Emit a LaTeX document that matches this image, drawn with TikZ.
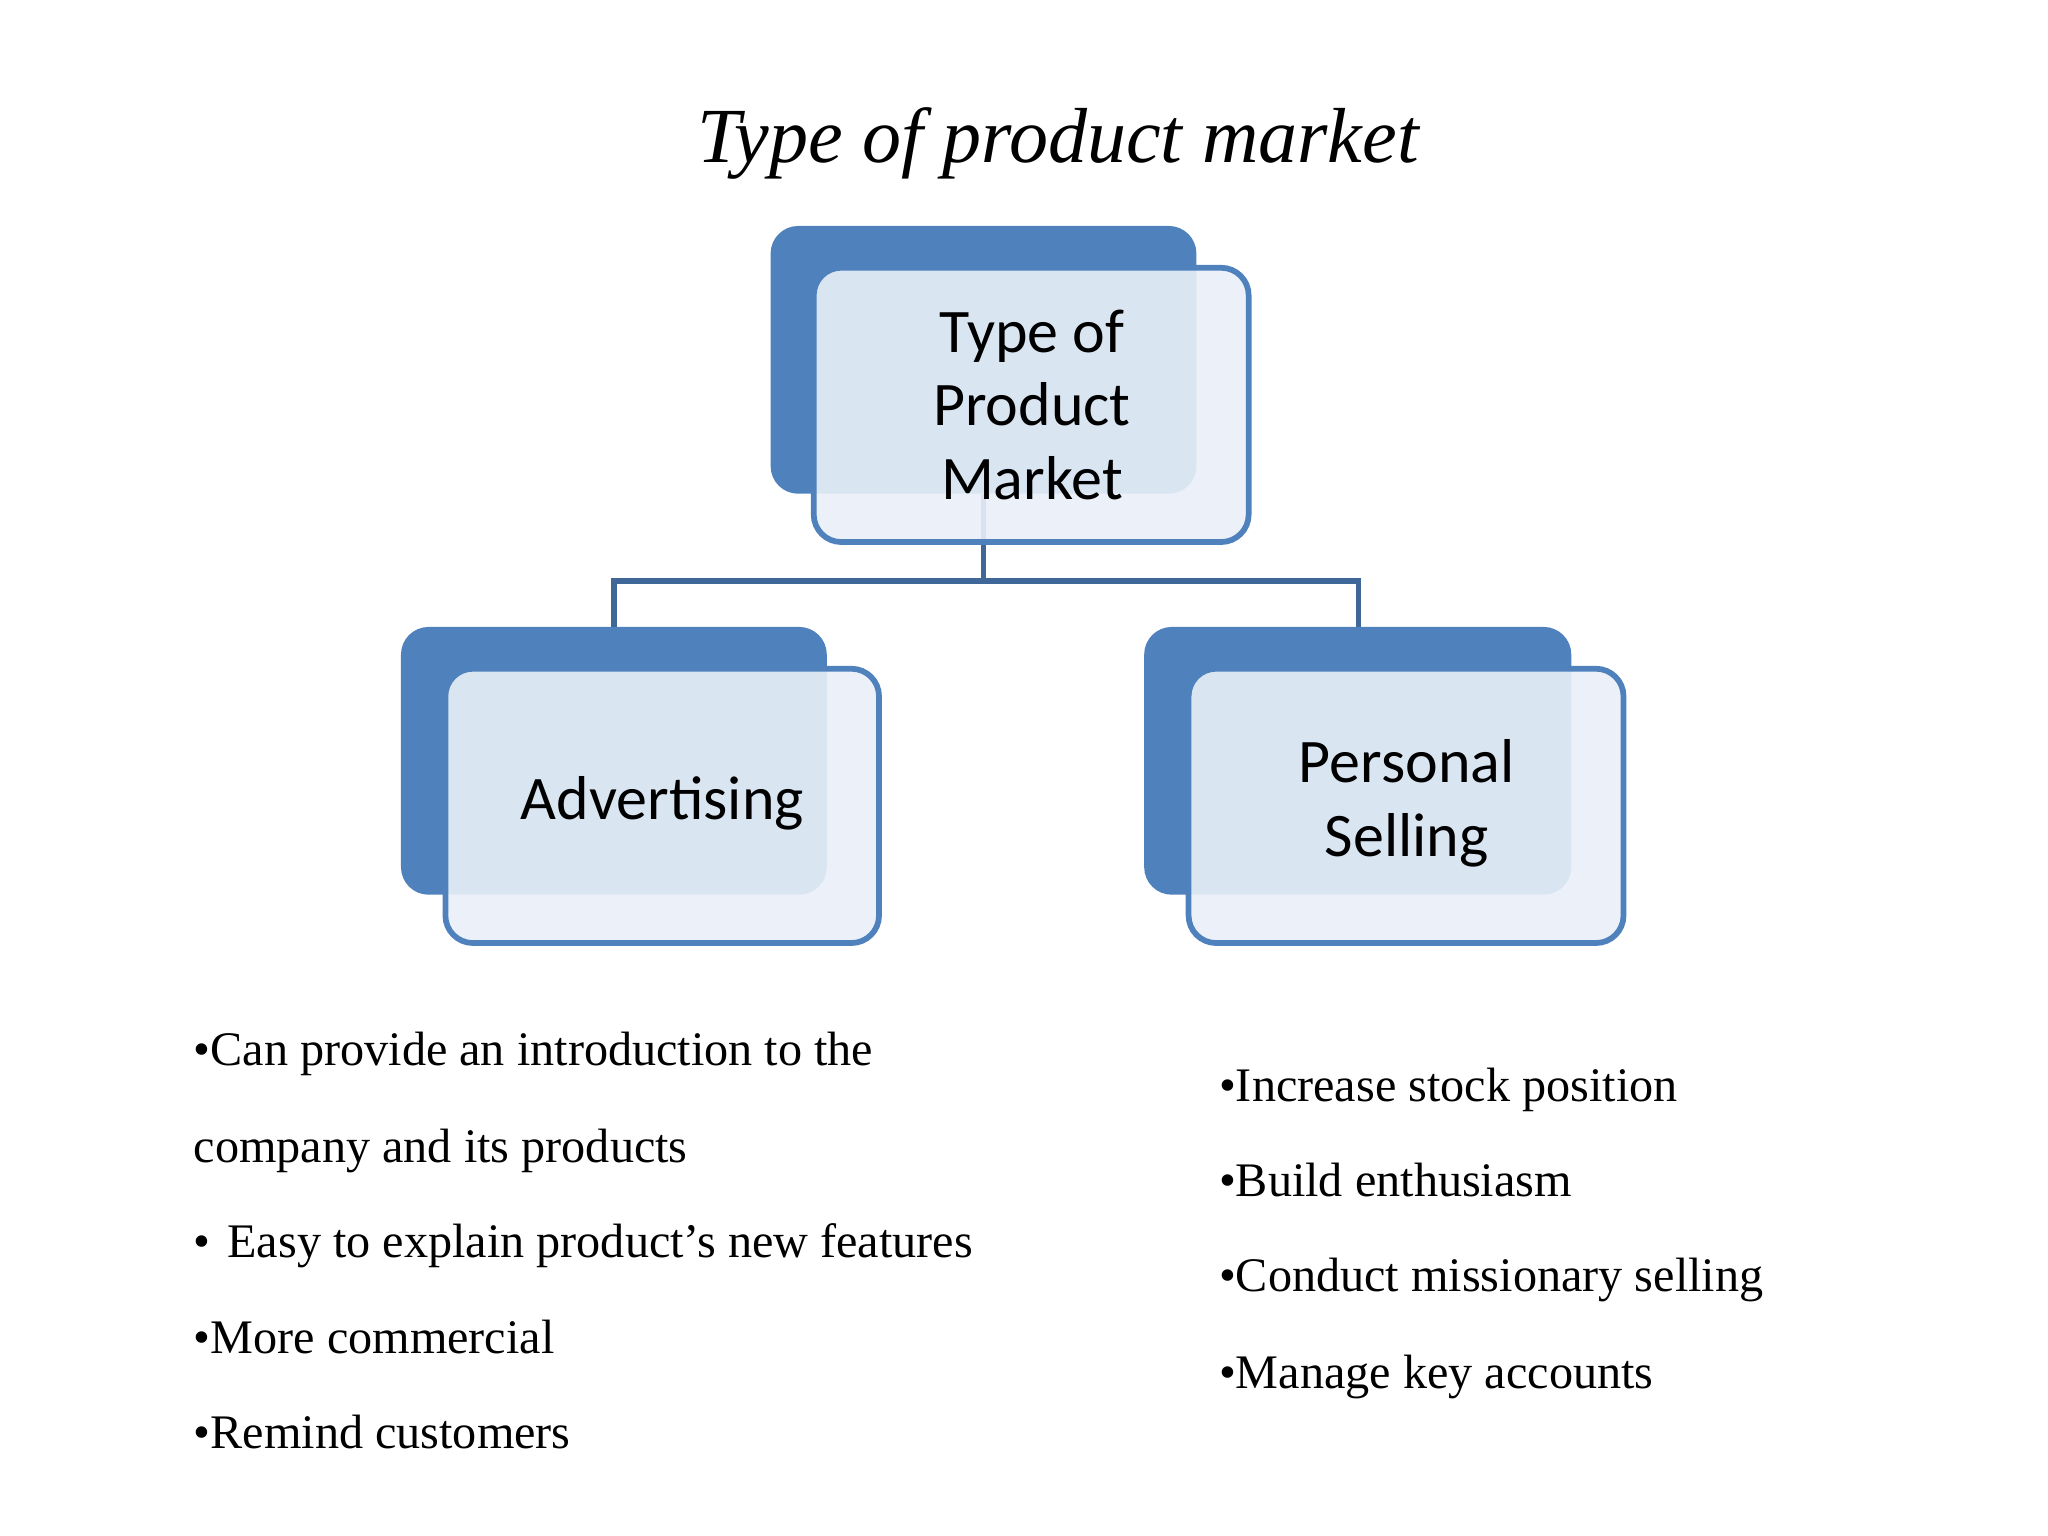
\documentclass[tikz,border=0pt]{standalone}
\usepackage{fontspec}
\setmainfont{Liberation Serif}
\newfontfamily\boxfont{Carlito}
\begin{document}
\begin{tikzpicture}[x=0.02cm,y=-0.02cm,
  back/.style={fill=blue1,rounded corners=12pt,draw=none},
  front/.style={fill=light,fill opacity=0.9,draw=blue1,line width=2.5pt,rounded corners=12pt},
  lbl/.style={font=\boxfont\fontsize{27}{32}\selectfont,align=center,text=black},
  bul/.style={anchor=base west,font=\fontsize{21}{25}\selectfont,inner sep=0pt},
  conn/.style={draw=blue2,line width=2.5pt}]
\definecolor{blue1}{HTML}{4F81BD}
\definecolor{blue2}{HTML}{3F6797}
\definecolor{light}{HTML}{EAF0F8}
\useasboundingbox (0,0) rectangle (1568,1176);
\node[font=\itshape\fontsize{34}{40}\selectfont] (title) at (810,110) {Type of product market};
% back boxes
\path[back] (590,173) rectangle (916,378);
\path[back] (307,480) rectangle (633,685);
\path[back] (876,480) rectangle (1203,685);
\coordinate (tb) at (753,378);
\coordinate (lb) at (470,480);
\coordinate (rb) at (1040,480);
\draw[conn] (tb) -- (753,445) -| (lb);
\draw[conn] (753,445) -| (rb);
% front boxes
\path[front] (623,205) rectangle (956,415);
\path[front] (341,512) rectangle (673,722);
\path[front] (910,512) rectangle (1243,722);
\node[lbl] (t) at (790,310) {Type of\\Product\\Market};
\node[lbl] (a) at (507,615) {Advertising};
\node[lbl] (p) at (1077,615) {Personal\\Selling};
% bullets
\node[bul] (l1) at (148,816) {•Can provide an introduction to the};
\node[bul] (l1b) at (148,890) {company and its products};
\node[bul] (l2) at (148,963) {•\hspace{0.35em}Easy to explain product’s new features};
\node[bul] (l3) at (148,1036) {•More commercial};
\node[bul] (l4) at (148,1109) {•Remind customers};
\node[bul] (r1) at (933,843) {•Increase stock position};
\node[bul] (r2) at (933,916) {•Build enthusiasm};
\node[bul] (r3) at (933,989) {•Conduct missionary selling};
\node[bul] (r4) at (933,1063) {•Manage key accounts};
\end{tikzpicture}
\end{document}
